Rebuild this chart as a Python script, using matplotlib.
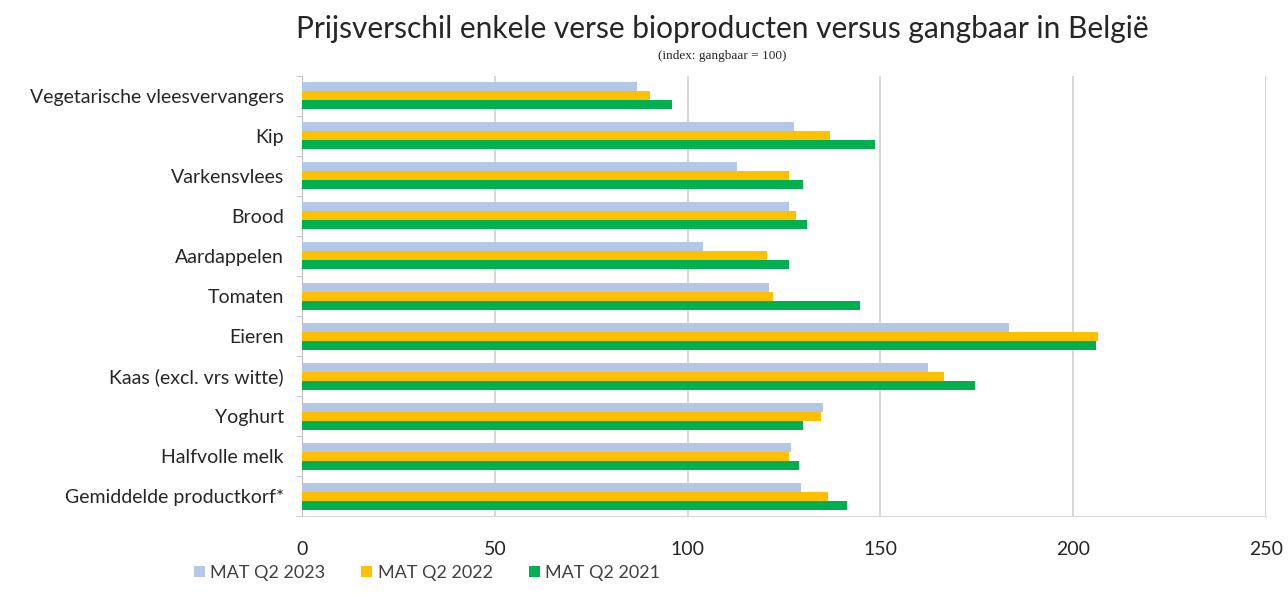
import numpy as np
import matplotlib.pyplot as plt

plt.rcParams['font.family'] = ['Lato', 'DejaVu Sans']

categories = ["Vegetarische vleesvervangers", "Kip", "Varkensvlees", "Brood",
              "Aardappelen", "Tomaten", "Eieren", "Kaas (excl. vrs witte)",
              "Yoghurt", "Halfvolle melk", "Gemiddelde productkorf*"]
series_names = ["MAT Q2 2023", "MAT Q2 2022", "MAT Q2 2021"]
mat_2023 = [86.8, 127.7, 112.7, 126.4, 104.0, 121.0, 183.2, 162.4, 135.2, 126.7, 129.5]
mat_2022 = [90.2, 136.8, 126.4, 128.2, 120.7, 122.0, 206.3, 166.6, 134.7, 126.2, 136.3]
mat_2021 = [96.0, 148.7, 129.8, 131.0, 126.4, 144.8, 206.0, 174.6, 130.0, 129.0, 141.2]
colors = ["#b4c7e7", "#ffc000", "#00b050"]

fig = plt.figure(figsize=(12.88, 6.06), dpi=100)
ax = fig.add_axes([0.2345, 0.148, 0.7485, 0.727])

y = np.arange(len(categories))
h = 0.225
for i, (vals, name, c) in enumerate(zip([mat_2023, mat_2022, mat_2021], series_names, colors)):
    ax.barh(y + (i - 1) * h, vals, height=h, color=c, label=name, zorder=3)

ax.set_yticks(y)
ax.set_yticklabels(categories, fontsize=14, color="#262626")
ax.set_yticks(np.arange(len(categories) + 1) - 0.5, minor=True)
ax.set_ylim(len(categories) - 0.5, -0.5)
ax.set_xlim(0, 250)
ax.set_xticks(range(0, 251, 50))
ax.tick_params(axis='x', labelsize=14, labelcolor="#262626", length=0, pad=18)
ax.tick_params(axis='y', which='major', length=0, pad=13)
ax.tick_params(axis='y', which='minor', length=4, color="#bfbfbf")
ax.grid(axis='x', color="#d0d0d0", linewidth=1.2, zorder=0)
for s in ["top", "right"]:
    ax.spines[s].set_visible(False)
ax.spines["left"].set_color("#bfbfbf")
ax.spines["bottom"].set_color("#d9d9d9")

fig.text(0.561, 0.952, "Prijsverschil enkele verse bioproducten versus gangbaar in België",
         ha="center", va="center", fontsize=21.5, color="#262626")
fig.text(0.561, 0.908, "(index: gangbaar = 100)", ha="center", va="center",
         fontsize=9.5, color="#262626", family="Liberation Serif")

fig.legend(loc="lower left", bbox_to_anchor=(0.138, 0.015), ncol=3, frameon=False,
           fontsize=13, handlelength=0.6, handleheight=0.6, handletextpad=0.3,
           columnspacing=2.0, labelcolor="#404040")

fig.savefig("out.png", dpi=100)
